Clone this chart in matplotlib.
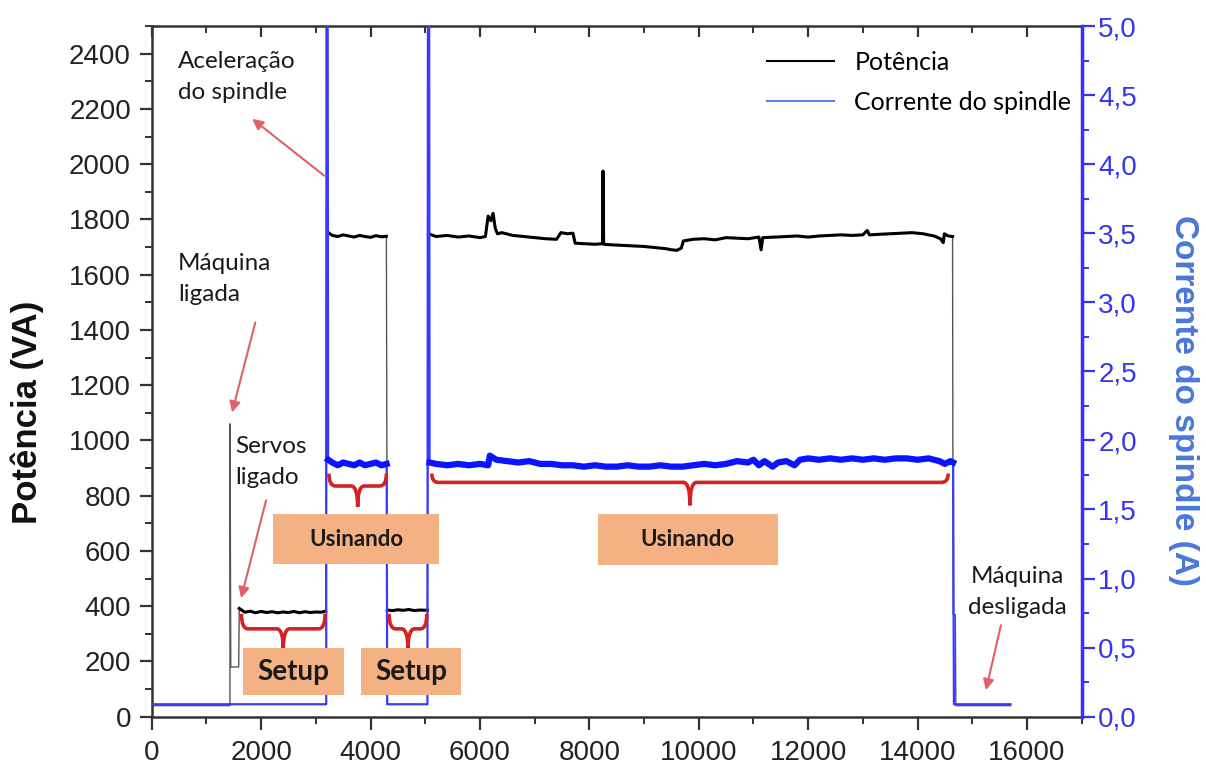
import numpy as np
import matplotlib
matplotlib.use("Agg")
import matplotlib.pyplot as plt
from matplotlib.ticker import MultipleLocator, FuncFormatter
from matplotlib.patches import Rectangle, PathPatch
from matplotlib.path import Path
from matplotlib.lines import Line2D

# ---- potencia (VA), por trecho ----
t_desl_ini = [0, 1430]
p_desl_ini = [40, 40]
t_ligada = [1432, 1445, 1590]
p_ligada = [1060, 180, 180]
t_setup1 = [1600, 1700, 1800, 1900, 2000, 2100, 2200, 2300, 2400, 2500, 2600,
            2700, 2800, 2900, 3000, 3100, 3180]
p_setup1 = [392, 378, 382, 376, 381, 377, 380, 376, 379, 377, 381,
            376, 380, 377, 379, 378, 382]
t_acel1 = [3195]
p_acel1 = [1840]
t_usin1 = [3230, 3300, 3400, 3500, 3600, 3700, 3800, 3900, 4000, 4100, 4200, 4290]
p_usin1 = [1752, 1742, 1738, 1744, 1740, 1736, 1742, 1738, 1735, 1741, 1737, 1739]
t_setup2 = [4305, 4400, 4500, 4600, 4700, 4800, 4900, 5040]
p_setup2 = [386, 384, 387, 385, 388, 384, 386, 385]
t_usin2 = [5060, 5200, 5400, 5600, 5800, 6000, 6100, 6150, 6200, 6240, 6280, 6320,
           6400, 6600, 6800, 7000, 7200, 7400, 7480, 7600, 7700, 7740, 7900, 8100,
           8240, 8250, 8262, 8400, 8600, 8800, 9000, 9200, 9400, 9500, 9600, 9680,
           9720, 9900, 10100, 10300, 10500, 10700, 10900, 11100, 11140, 11170, 11400,
           11600, 11800, 12000, 12200, 12400, 12600, 12800, 13000, 13080, 13120,
           13300, 13500, 13700, 13900, 14100, 14300, 14420, 14470, 14490, 14560, 14640]
p_usin2 = [1748, 1738, 1742, 1736, 1740, 1734, 1738, 1812, 1795, 1822, 1768, 1748,
           1752, 1742, 1738, 1734, 1730, 1728, 1752, 1748, 1750, 1714, 1712, 1710,
           1712, 1975, 1710, 1708, 1706, 1704, 1702, 1698, 1694, 1690, 1688, 1696,
           1722, 1728, 1730, 1726, 1734, 1732, 1730, 1736, 1690, 1734, 1736,
           1738, 1740, 1736, 1740, 1742, 1744, 1742, 1744, 1760, 1744,
           1746, 1748, 1750, 1752, 1748, 1740, 1730, 1716, 1748, 1740, 1738]
t_fim = [14650, 14690, 14700, 15700]
p_fim = [370, 370, 40, 40]

# ---- corrente do spindle (A), por trecho ----
tc_ini = [0, 3190]
c_ini = [0.09, 0.09]
tc_acel1 = [3195, 3215]
c_acel1 = [5.6, 5.6]
tc_usin1 = [3225, 3300, 3400, 3500, 3600, 3700, 3800, 3900, 4000, 4100, 4200, 4295]
c_usin1 = [1.86, 1.84, 1.82, 1.84, 1.83, 1.82, 1.84, 1.82, 1.83, 1.84, 1.82, 1.83]
tc_setup2 = [4305, 5040]
c_setup2 = [0.09, 0.09]
tc_acel2 = [5050, 5070]
c_acel2 = [5.6, 5.6]
tc_usin2 = [5080, 5200, 5400, 5600, 5800, 6000, 6150, 6180, 6300, 6500, 6700, 6900,
            7100, 7300, 7500, 7700, 7900, 8100, 8300, 8500, 8700, 8900, 9100, 9300,
            9500, 9700, 9900, 10100, 10300, 10500, 10700, 10900, 11000, 11100, 11200,
            11350, 11450, 11600, 11750, 11850, 12000, 12200, 12400, 12600, 12800,
            13000, 13200, 13400, 13600, 13800, 14000, 14200, 14400, 14500, 14600, 14650]
c_usin2 = [1.84, 1.83, 1.82, 1.83, 1.82, 1.83, 1.82, 1.89, 1.86, 1.85, 1.84, 1.85,
           1.83, 1.83, 1.82, 1.82, 1.81, 1.82, 1.81, 1.81, 1.82, 1.81, 1.81, 1.82,
           1.81, 1.81, 1.82, 1.83, 1.82, 1.83, 1.85, 1.84, 1.86, 1.82, 1.85,
           1.81, 1.84, 1.85, 1.82, 1.86, 1.87, 1.86, 1.87, 1.86, 1.87,
           1.86, 1.87, 1.86, 1.87, 1.87, 1.86, 1.87, 1.85, 1.83, 1.85, 1.84]
tc_fim = [14665, 15700]
c_fim = [0.09, 0.09]

t_pot = t_desl_ini + t_ligada + t_setup1 + t_acel1 + t_usin1 + t_setup2 + t_usin2 + t_fim
pot = p_desl_ini + p_ligada + p_setup1 + p_acel1 + p_usin1 + p_setup2 + p_usin2 + p_fim
t_cor = tc_ini + tc_acel1 + tc_usin1 + tc_setup2 + tc_acel2 + tc_usin2 + tc_fim
cor = c_ini + c_acel1 + c_usin1 + c_setup2 + c_acel2 + c_usin2 + c_fim

fonte_txt = ['Lato', 'DejaVu Sans']
plt.rcParams['font.family'] = ['Liberation Sans', 'DejaVu Sans']

fig = plt.figure(figsize=(12.06, 7.67), dpi=100)
ax = fig.add_axes([0.1258, 0.0656, 0.7711, 0.9005])
ax2 = ax.twinx()

# potencia
ax.plot(t_pot, pot, color='#555555', lw=1.0)
for tt, vv in [(t_setup1, p_setup1), (t_usin1, p_usin1), (t_setup2, p_setup2), (t_usin2, p_usin2)]:
    ax.plot(tt, vv, color='black', lw=2.2, solid_joinstyle='round')

# corrente
ax2.plot(t_cor, cor, color='#3a3aff', lw=1.6)
for tt, vv in [(tc_usin1, c_usin1), (tc_usin2, c_usin2)]:
    ax2.plot(tt, vv, color='#0a14ff', lw=4.5, solid_joinstyle='round')

ax.set_xlim(0, 17000)
ax.set_ylim(0, 2500)
ax2.set_ylim(0, 5)

ax.xaxis.set_major_locator(MultipleLocator(2000))
ax.xaxis.set_minor_locator(MultipleLocator(1000))
ax.set_yticks(np.arange(0, 2401, 200))
ax.yaxis.set_minor_locator(MultipleLocator(100))
ax2.yaxis.set_major_locator(MultipleLocator(0.5))
ax2.yaxis.set_minor_locator(MultipleLocator(0.25))
ax2.yaxis.set_major_formatter(FuncFormatter(lambda v, _: f"{v:.1f}".replace('.', ',')))

ax.tick_params(which='major', length=9, width=1.6, direction='out', labelsize=20,
               labelcolor='#222222', color='#333333', pad=6)
ax.tick_params(axis='x', which='major', pad=8)
ax.tick_params(which='minor', length=5, width=1.4, direction='out', color='#333333')
top = ax.secondary_xaxis('top')
top.xaxis.set_major_locator(MultipleLocator(2000))
top.xaxis.set_minor_locator(MultipleLocator(1000))
top.tick_params(which='major', direction='in', length=8, width=1.6, labeltop=False, color='#333333')
top.tick_params(which='minor', direction='in', length=5, width=1.4, color='#333333')
top.spines['top'].set_visible(False)

ax2.tick_params(which='major', length=9, width=1.6, direction='out', labelsize=20,
                labelcolor='#3535f0', color='#3333ff', pad=3)
ax2.tick_params(which='minor', length=5, width=1.4, direction='out', color='#3333ff')

for s in ['left', 'bottom', 'top']:
    ax.spines[s].set_color('#333333')
    ax.spines[s].set_linewidth(1.8)
    ax2.spines[s].set_visible(False)
ax.spines['right'].set_visible(False)
ax2.spines['right'].set_color('#3333ff')
ax2.spines['right'].set_linewidth(2.5)

ax.set_ylabel('Potência (VA)', fontsize=25, fontweight='bold', color='#111111')
ax.yaxis.set_label_coords(-0.116, 0.44)
ax2.set_ylabel('Corrente do spindle (A)', fontsize=24, fontweight='bold', color='#4a78d8',
               rotation=270, va='center')
ax2.yaxis.set_label_coords(1.109, 0.458)

# legenda
h = [Line2D([], [], color='black', lw=1.5), Line2D([], [], color='#5b80e0', lw=1.5)]
ax2.legend(h, ['Potência', 'Corrente do spindle'], loc='upper right',
           bbox_to_anchor=(1.013, 0.997), frameon=False, handlelength=2.7,
           handletextpad=0.8, labelspacing=0.7, prop={'family': fonte_txt, 'size': 18})

# chaves e caixas (coordenadas da potencia)
T = ax.transData
vermelho = '#d42222'


def chave(x0, x1, yt, yb, ytip, r):
    xm = (x0 + x1) / 2
    verts = [(x0, yt), (x0, yb), (x0 + r, yb), (xm - r, yb), (xm, yb), (xm, ytip),
             (xm, yb), (xm + r, yb), (x1 - r, yb), (x1, yb), (x1, yt)]
    codes = [Path.MOVETO, Path.CURVE3, Path.CURVE3, Path.LINETO, Path.CURVE3, Path.CURVE3,
             Path.CURVE3, Path.CURVE3, Path.LINETO, Path.CURVE3, Path.CURVE3]
    ax2.add_patch(PathPatch(Path(verts, codes), transform=T, fill=False,
                            edgecolor=vermelho, lw=2.6, zorder=5))


chave(1640, 3170, 372, 318, 245, 120)
chave(4340, 5030, 372, 318, 245, 120)
chave(3240, 4290, 880, 835, 760, 120)
chave(5120, 14560, 880, 848, 765, 120)


def caixa(x0, x1, y0, y1, txt, fs):
    ax2.add_patch(Rectangle((x0, y0), x1 - x0, y1 - y0, transform=T,
                            facecolor='#f4b183', edgecolor='none', zorder=6))
    ax2.text((x0 + x1) / 2, (y0 + y1) / 2, txt, transform=T, ha='center', va='center',
             fontsize=fs, fontweight='bold', family=fonte_txt, color='#1a1a1a', zorder=7)


caixa(1670, 3510, 78, 248, 'Setup', 20)
caixa(3830, 5660, 78, 248, 'Setup', 20)
caixa(2220, 5260, 552, 733, 'Usinando', 16)
caixa(8150, 11440, 548, 733, 'Usinando', 16)

# anotacoes
seta = dict(arrowstyle='-|>', color='#e06068', lw=1.5, mutation_scale=16, shrinkA=0, shrinkB=0)
txt_kw = dict(fontsize=17.5, family=fonte_txt, color='#1a1a1a', linespacing=1.6, zorder=8)
ax2.text(485, 2410, 'Aceleração\ndo spindle', transform=T, ha='left', va='top', **txt_kw)
ax2.annotate('', xy=(1836, 2164), xytext=(3155, 1958), xycoords=T, textcoords=T, arrowprops=seta)
ax2.text(485, 1680, 'Máquina\nligada', transform=T, ha='left', va='top', **txt_kw)
ax2.annotate('', xy=(1469, 1101), xytext=(1894, 1427), xycoords=T, textcoords=T, arrowprops=seta)
ax2.text(1524, 1015, 'Servos\nligado', transform=T, ha='left', va='top', **txt_kw)
ax2.annotate('', xy=(1634, 429), xytext=(2090, 783), xycoords=T, textcoords=T, arrowprops=seta)
ax2.text(15818, 545, 'Máquina\ndesligada', transform=T, ha='center', va='top', **txt_kw)
ax2.annotate('', xy=(15250, 96), xytext=(15524, 331), xycoords=T, textcoords=T, arrowprops=seta)

fig.savefig('out.png', dpi=100)
